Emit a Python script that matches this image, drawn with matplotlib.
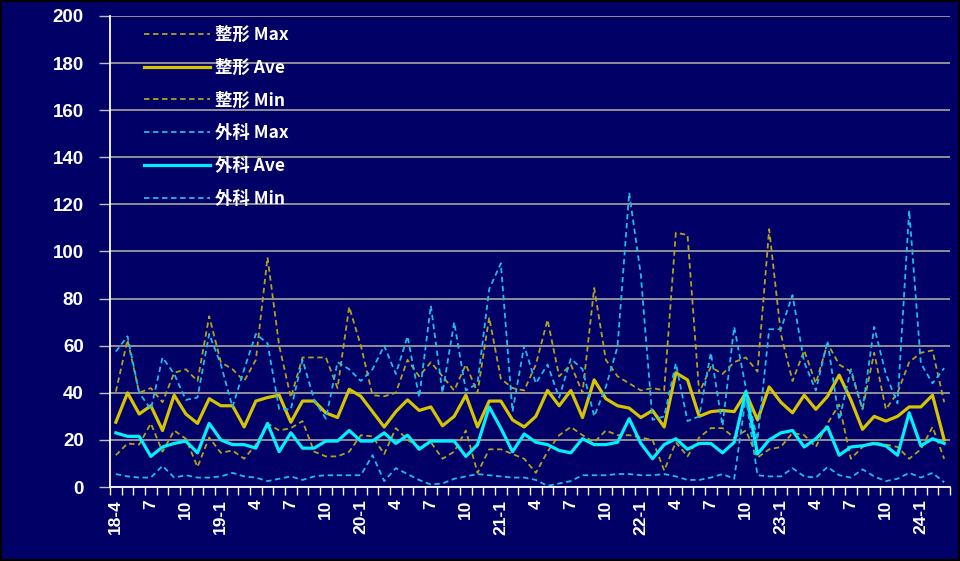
import numpy as np
import matplotlib
matplotlib.use('Agg')
import matplotlib.pyplot as plt
from matplotlib.patches import Rectangle

# monthly series, 2018-04 .. 2024-03
seikei_max = [40.5, 62.5, 40, 42, 36, 48.5, 50, 45, 72.5, 53, 50, 45,
              54, 97.5, 60, 38, 55, 55, 55, 42, 76.5, 60, 39, 38.5,
              40, 54, 47, 53, 47, 41, 52, 40, 72, 46, 42, 41,
              52, 71, 47, 52, 40, 84.5, 54, 47, 44, 41, 42, 41,
              108, 107, 40, 51, 48, 53, 55, 49, 109.5, 65, 45, 58,
              44, 61, 52, 49, 33, 57, 33, 40, 53, 57, 58, 36]
seikei_ave = [27.5, 40, 31, 34.5, 24, 39, 31, 27, 37.5, 34.5, 34.5, 25.5,
              36.5, 38, 39, 27.5, 36.5, 36.5, 31.5, 29.5, 41.5, 38.5, 32, 25.5,
              32, 37, 32.5, 34, 26, 30, 39, 25.5, 36.5, 36.5, 28.5, 25.5,
              30, 41, 34.5, 41, 29.5, 45.5, 37.5, 34.5, 33.5, 29.5, 32.5, 25.5,
              48.5, 45.5, 30, 32, 32.5, 32, 40, 28.5, 42.5, 36, 31.5, 39,
              33, 38.5, 47.5, 37, 24.5, 30, 28, 30, 34, 34, 39, 20]
seikei_min = [13.5, 18.5, 18, 27, 15, 24, 20.5, 8.5, 21, 14.5, 15.5, 12,
              18, 27, 24, 25, 28, 15, 13, 13, 15, 22, 21.5, 14,
              25, 20, 17, 19, 12, 15, 24, 6, 16, 16, 14, 12,
              6, 15, 22, 25.5, 22, 19, 24, 22, 22, 21, 20, 7,
              19, 13, 21, 25, 25, 21, 24, 12.5, 16, 17, 23, 22,
              17, 27, 35, 12, 17, 19, 18, 17, 12, 16, 25.5, 12]
geka_max = [57.5, 64, 40, 33, 55, 48, 37, 38, 65, 52, 34, 50,
            65, 61, 33, 33, 54, 37, 29, 53, 50, 45, 50, 60,
            48, 64, 38, 77, 40, 70, 41, 44, 84, 95, 32, 60,
            44, 52, 38, 54.5, 50, 30, 42.5, 59.5, 125, 90, 28.5, 30,
            52.5, 28, 30, 57, 26, 68, 42, 20, 67, 67, 81.5, 53,
            41, 62, 28.5, 50, 33, 68, 48, 35.5, 117.5, 52.5, 44, 50.5]
geka_ave = [23, 21.5, 21.5, 13, 17, 18.5, 19.5, 14.5, 27, 20, 18, 18,
            16.5, 27, 15, 23, 16.5, 16.5, 19.5, 19.5, 24, 19.5, 19.5, 23,
            18.5, 22, 16, 19.5, 19.5, 19.5, 13, 18, 34, 25, 15, 22.5,
            19, 18, 15.5, 14.5, 20.5, 18, 18, 19, 29, 18.5, 12, 18,
            20.5, 16, 18.5, 18.5, 14.5, 19, 40.5, 14, 20, 23, 24, 17,
            20.5, 25.5, 13.5, 17, 17.5, 18.5, 17.5, 13.5, 31.5, 17.5, 20.5, 18.5]
geka_min = [5.5, 4.5, 4, 4, 9, 4, 5, 4, 4, 4.5, 6, 4.5,
            4, 2.5, 3.5, 4.5, 3, 4.5, 5, 5, 5, 5, 13.5, 2.5,
            8, 5.5, 3, 1, 1.5, 3.5, 4.5, 5.5, 5, 4.5, 4, 4,
            3, 0.5, 1.5, 2.5, 5, 5, 5, 5.5, 5.5, 5, 5, 5.5,
            4.5, 3, 3, 4, 5.5, 3.5, 38, 5, 4.5, 4.5, 8, 4.5,
            4, 8.5, 5, 4, 7.5, 4.5, 2.5, 3.5, 6, 4, 6, 2]

tick_labels = ['18-4', '7', '10', '19-1', '4', '7', '10', '20-1', '4', '7', '10', '21-1',
               '4', '7', '10', '22-1', '4', '7', '10', '23-1', '4', '7', '10', '24-1']

BG = '#000066'
YEL = '#D6C400'
YEL_D = '#B3A31C'
CYN = '#00F0FF'
CYN_D = '#1CBDE6'

fig = plt.figure(figsize=(9.6, 5.61), dpi=100, facecolor=BG)
ax = fig.add_axes([0.1146, 0.1319, 0.875, 0.8396])
ax.set_facecolor(BG)
fig.patches.append(Rectangle((0, 0), 1, 1, transform=fig.transFigure,
                             fill=False, edgecolor='black', linewidth=3))

x = np.arange(len(seikei_ave))
dash = (0, (3, 2))
ax.plot(x, seikei_max, color=YEL_D, lw=1.3, ls=dash, label='整形 Max')
ax.plot(x, seikei_ave, color=YEL, lw=2.3, label='整形 Ave')
ax.plot(x, seikei_min, color=YEL_D, lw=1.3, ls=dash, label='整形 Min')
ax.plot(x, geka_max, color=CYN_D, lw=1.3, ls=dash, label='外科 Max')
ax.plot(x, geka_ave, color=CYN, lw=2.3, label='外科 Ave')
ax.plot(x, geka_min, color=CYN_D, lw=1.3, ls=dash, label='外科 Min')

ax.set_xlim(-0.5, len(x) - 0.5)
ax.set_ylim(0, 200)
ax.set_yticks(range(0, 201, 20))
ax.yaxis.grid(True, color='#9A9A9A', lw=1.3)
ax.set_axisbelow(True)

# ticks on category boundaries, labels on every third category
ax.set_xticks(np.arange(-0.5, len(x), 1))
ax.set_xticklabels([])
ax.set_xticks(x[::3], tick_labels, minor=True)
ax.tick_params(axis='x', which='major', length=6, width=1, color='white', direction='out')
ax.tick_params(axis='x', which='minor', length=0, pad=9, labelrotation=90,
               labelcolor='white', labelsize=12.5)
ax.tick_params(axis='y', length=8, width=1, color='#BFBFBF', pad=11,
               labelcolor='white', labelsize=13.5)
for lab in ax.get_xticklabels(minor=True) + ax.get_yticklabels():
    lab.set_fontweight('bold')
    lab.set_family('Liberation Sans')

for s in ['top', 'right']:
    ax.spines[s].set_visible(False)
for s in ['left', 'bottom']:
    ax.spines[s].set_color('white')
    ax.spines[s].set_linewidth(1.3)

leg = ax.legend(loc='upper left', bbox_to_anchor=(0.022, 1.012), frameon=False,
                handlelength=3.8, handletextpad=0.3, labelspacing=0.85,
                prop={'family': ['Noto Sans CJK JP'], 'weight': 'bold', 'size': 12.5})
for t in leg.get_texts():
    t.set_color('white')

fig.savefig('out.png', dpi=100, facecolor=BG)
